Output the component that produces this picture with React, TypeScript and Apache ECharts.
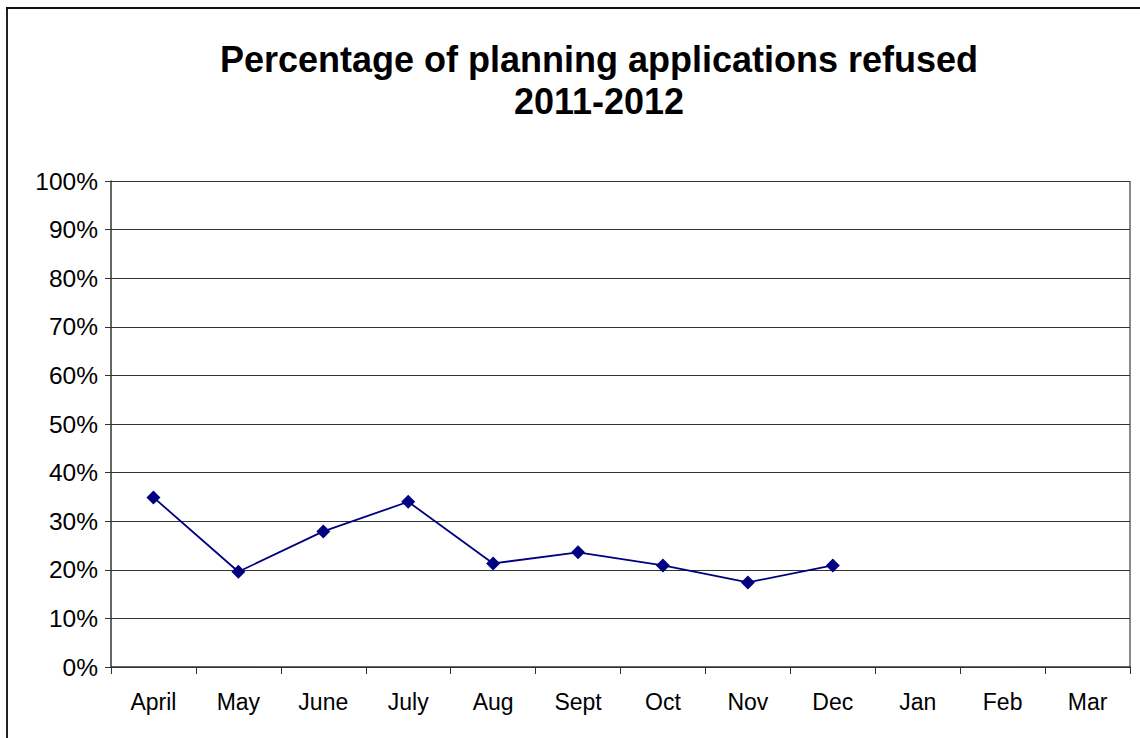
import React, { useEffect, useRef } from "react";
import * as echarts from "echarts";

const categories = ["April", "May", "June", "July", "Aug", "Sept", "Oct", "Nov", "Dec", "Jan", "Feb", "Mar"];
const refusedPct = [34.9, 19.6, 27.9, 34.0, 21.3, 23.6, 20.9, 17.4, 20.9, null, null, null];
const titleLines = ["Percentage of planning applications refused", "2011-2012"];

export default function App() {
  const ref = useRef<HTMLDivElement>(null);
  useEffect(() => {
    if (!ref.current) return;
    const chart = echarts.init(ref.current, undefined, { renderer: "svg" });
    const font = "'Liberation Sans', Arial, sans-serif";
    chart.setOption({
      animation: false,
      backgroundColor: "#ffffff",
      title: {
        text: titleLines.join("\n"),
        left: 594,
        top: 33,
        textAlign: "center",
        textStyle: { fontFamily: font, fontSize: 36, fontWeight: "bold", color: "#000", lineHeight: 42 },
      },
      graphic: [
        { type: "line", shape: { x1: 7, y1: 8, x2: 7, y2: 738 }, style: { stroke: "#222", lineWidth: 2 } },
        { type: "line", shape: { x1: 6, y1: 8, x2: 1140, y2: 8 }, style: { stroke: "#111", lineWidth: 2 } },
        { type: "line", shape: { x1: 1130, y1: 181, x2: 1130, y2: 667 }, style: { stroke: "#888", lineWidth: 2 } },
      ],
      grid: { left: 111, right: 10, top: 181, bottom: 71, containLabel: false },
      xAxis: {
        type: "category",
        data: categories,
        boundaryGap: true,
        axisLine: { lineStyle: { color: "#333", width: 1.5 } },
        axisTick: { show: true, alignWithLabel: false, length: 7, lineStyle: { color: "#333" } },
        axisLabel: { fontFamily: font, fontSize: 23, color: "#000", margin: 23, interval: 0 },
        splitLine: { show: false },
      },
      yAxis: {
        type: "value",
        min: 0,
        max: 100,
        interval: 10,
        axisLine: { show: true, lineStyle: { color: "#333", width: 1.5 } },
        axisTick: { show: true, length: 6, lineStyle: { color: "#333" } },
        axisLabel: { fontFamily: font, fontSize: 24.5, color: "#000", margin: 13, formatter: "{value}%" },
        splitLine: { show: true, lineStyle: { color: "#333", width: 1 } },
      },
      series: [
        {
          type: "line",
          data: refusedPct,
          connectNulls: false,
          symbol: "diamond",
          symbolSize: 14,
          itemStyle: { color: "#000080" },
          lineStyle: { color: "#000080", width: 1.8 },
        },
      ],
    });
    return () => chart.dispose();
  }, []);
  return <div ref={ref} style={{ position: "fixed", left: 0, top: 0, width: 1140, height: 738 }} />;
}
